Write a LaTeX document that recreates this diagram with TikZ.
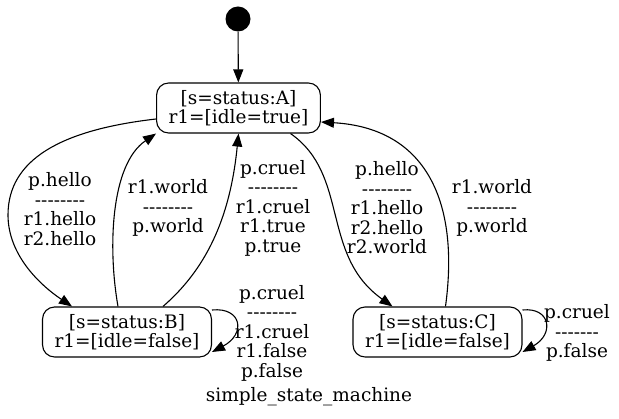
\documentclass[tikz,border=0pt]{standalone}
\usepackage{fontspec}
\setmainfont{DejaVu Serif}
\usetikzlibrary{arrows.meta}
\newcommand{\sepdash}[1]{\foreach\k in {1,...,#1}{-}}

\begin{document}
\begin{tikzpicture}[x=1pt,y=-1pt,
  state/.style={draw,line width=1.1pt,rounded corners=12pt,align=center,inner xsep=12pt,minimum height=50pt},
  initdot/.style={circle,fill,inner sep=0pt,minimum size=25pt},
  edge/.style={line width=1.1pt,-{Triangle[length=13pt,width=10pt]}},
  lbl/.style={align=center}]
\fontsize{18.5}{19.5}\selectfont
\useasboundingbox (0,0) rectangle (619,419);
\node[initdot] (init) at (238,19) {};
\node[state] (A) at (238.5,108) {[s=status:A]\\r1=[idle=true]};
\node[state] (B) at (127,332) {[s=status:B]\\r1=[idle=false]};
\node[state] (C) at (437.5,332) {[s=status:C]\\r1=[idle=false]};
\node (caption) at (309,397) {simple\_state\_machine};
% transitions
\draw[edge] (init) -- (A);
\draw[edge] ([yshift=-11pt]A.west) .. controls (60,130) and (8,160) .. (8,215)
  .. controls (8,255) and (40,285) .. ([xshift=-55pt]B.north);
\draw[edge] ([xshift=-9pt]B.north) .. controls (108,250) and (110,165) .. (A.south west);
\draw[edge] ([xshift=36pt]B.north) .. controls (205,270) and (230,220) .. (A.south);
\draw[edge] ([xshift=52pt]A.south) .. controls (350,175) and (320,255) .. ([xshift=-45pt]C.north);
\draw[edge] ([xshift=8pt]C.north) .. controls (460,200) and (425,128) .. ([yshift=-14pt]A.east);
\draw[edge] ([yshift=22pt]B.east) .. controls +(30,-3) and +(34,-18) .. ([yshift=-20pt]B.east);
\draw[edge] ([yshift=22pt]C.east) .. controls +(28,-3) and +(32,-18) .. ([yshift=-20pt]C.east);
% labels
\node[lbl] (l1) at (60,209) {p.hello\\\sepdash{8}\\r1.hello\\r2.hello};
\node[lbl] (l2) at (168,208) {r1.world\\\sepdash{8}\\p.world};
\node[lbl] (l3) at (273,208) {p.cruel\\\sepdash{8}\\r1.cruel\\r1.true\\p.true};
\node[lbl] (l4) at (387,208) {p.hello\\\sepdash{8}\\r1.hello\\r2.hello\\r2.world};
\node[lbl] (l5) at (492,208) {r1.world\\\sepdash{8}\\p.world};
\node[lbl] (l6) at (272,333) {p.cruel\\\sepdash{8}\\r1.cruel\\r1.false\\p.false};
\node[lbl] (l7) at (577,333) {p.cruel\\\sepdash{7}\\p.false};
\end{tikzpicture}
\end{document}
